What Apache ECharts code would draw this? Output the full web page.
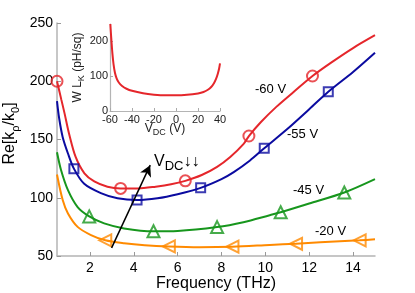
<!DOCTYPE html>
<html><head><meta charset="utf-8">
<script src="https://cdn.jsdelivr.net/npm/echarts@6/dist/echarts.min.js"></script>
<style>html,body{margin:0;padding:0;background:#fff}#c{width:415px;height:293px}</style>
</head><body><div id="c"></div>
<script>
// ---- data ----
var xTicks = [2, 4, 6, 8, 10, 12, 14];
var yTicks = [50, 100, 150, 200, 250];
var seriesNames = ['-60 V', '-55 V', '-45 V', '-20 V'];
var red60 = [[0.5,200],[0.7,184],[0.85,172],[1.05,155],[1.35,135],[1.75,121],[2.2,114],[2.8,109.5],[3.4,108],[4.2,108],[5.0,109.5],[5.7,111.5],[6.35,114.5],[7.1,119.5],[7.8,126.5],[8.4,135],[9.0,146],[9.25,153],[9.8,165],[10.5,178],[11.3,191],[12.15,204.5],[13,216],[14,228.5],[15,239.5]];
var blue55 = [[0.5,183],[0.6,168],[0.76,152],[1.0,138],[1.27,125],[1.74,112],[2.5,104],[3.26,99.5],[4.15,98],[5.08,99.5],[6,103],[7.05,108.5],[8,116],[8.56,122],[9.3,132],[9.95,142.5],[11,159],[12,176],[12.87,191],[14,208],[15,224.5]];
var green45 = [[0.5,139],[0.68,124],[1.0,106.5],[1.44,92],[1.97,84],[2.65,78],[3.56,73.7],[4.9,71.2],[6,71.5],[7.8,74.8],[9,79],[10.2,85],[10.7,87.5],[12,95],[13.6,104.5],[15,116]];
var orange20 = [[0.5,120],[0.76,98],[1.0,86.5],[1.44,75],[2.05,68],[2.7,63.5],[3.56,61],[4.5,59.3],[5.6,58.2],[7,57.6],[8.5,58],[10.2,59.5],[11.4,60.5],[12.5,61.7],[14.3,63.5],[15,64.3]];
var red60Markers = [[0.5,200],[3.4,108],[6.35,114.5],[9.25,153],[12.15,204.5]];
var blue55Markers = [[1.27,125],[4.15,98],[7.05,108.5],[9.95,142.5],[12.87,191]];
var green45Markers = [[1.97,84],[4.9,71.2],[7.8,74.8],[10.7,87.5],[13.6,104.5]];
var orange20Markers = [[2.7,63.5],[5.6,58.2],[8.5,58],[11.4,60.5],[14.3,63.5]];
var insetXTicks = [-60, -40, -20, 0, 20, 40];
var insetYTicks = [0, 100, 200];
var insetLK = [[-59.7,250],[-59.2,225],[-58.6,198],[-57.8,165],[-56.8,135],[-55.5,110],[-54,94],[-52,82],[-49,72],[-45,64],[-40,58],[-30,51],[-20,47],[-10,45],[0,45],[10,46.5],[20,50.5],[25,54.5],[29,61],[32,69],[34.5,80],[36.5,93],[38,107],[39.2,122],[40,137]];
var arrowFrom = [2.99, 57];
var arrowTo = [4.75, 128];

var colors = ['#e5262b', '#0b0ba0', '#17961d', '#ff8a00'];
var font = 'Liberation Sans, Arial, sans-serif';
var chart = echarts.init(document.getElementById('c'), null, {renderer:'canvas'});
var axisGray = '#b4b4b4';

function lineSeries(data, color) {
  return {type:'line', xAxisIndex:0, yAxisIndex:0, data:data, smooth:0.3, showSymbol:false, symbol:'none',
    lineStyle:{color:color, width:2}, z:2, silent:true, animation:false};
}
function markerSeries(data, color, symbol, size, rot) {
  return {type:'scatter', xAxisIndex:0, yAxisIndex:0, data:data, symbol:symbol, symbolSize:size, symbolRotate:rot||0,
    itemStyle:{color:'rgba(0,0,0,0)', borderColor:color, borderWidth:2}, z:3, silent:true, animation:false};
}

var option = {
  backgroundColor:'#fff',
  animation:false,
  textStyle:{fontFamily:font},
  grid:[
    {left:57, right:40, top:23, bottom:37, containLabel:false, outerBoundsMode:'none'},
    {left:110, top:24, width:110, height:87, containLabel:false, outerBoundsMode:'none'}
  ],
  xAxis:[
    {type:'value', gridIndex:0, min:0.5, max:15,
     axisLine:{onZero:false, lineStyle:{color:axisGray, width:1.5}},
     axisTick:{inside:true, length:4, lineStyle:{color:'#999'}, customValues:xTicks},
     axisLabel:{color:'#000', fontSize:14, fontFamily:font, margin:5, customValues:xTicks},
     splitLine:{show:false},
     name:'Frequency (THz)', nameLocation:'middle', nameGap:20, nameMoveOverlap:false,
     nameTextStyle:{color:'#000', fontSize:16, fontFamily:font, verticalAlign:'top'}},
    {type:'value', gridIndex:1, min:-60, max:40, interval:20,
     axisLine:{onZero:false, lineStyle:{color:axisGray, width:1.2}},
     axisTick:{inside:true, length:3, lineStyle:{color:'#aaa'}, customValues:insetXTicks},
     axisLabel:{color:'#222', fontSize:11, fontFamily:font, margin:3, customValues:insetXTicks},
     splitLine:{show:false},
     name:'{a|V}{s|DC}{a| (V)}', nameLocation:'middle', nameGap:10, nameMoveOverlap:false,
     nameTextStyle:{color:'#222', fontFamily:font, rich:{
       a:{fontSize:12, lineHeight:16, fontFamily:font, color:'#222'},
       s:{fontSize:9, lineHeight:9, verticalAlign:'bottom', fontFamily:font, color:'#222'}}}}
  ],
  yAxis:[
    {type:'value', gridIndex:0, min:50, max:250, interval:50,
     axisLine:{show:true, onZero:false, lineStyle:{color:axisGray, width:1.5}},
     axisTick:{show:true, inside:true, length:4, lineStyle:{color:'#999'}},
     axisLabel:{color:'#000', fontSize:14, fontFamily:font, margin:4},
     splitLine:{show:false},
     name:'{a|Re[k}{s|ρ}{a|/k}{s|0}{a|]}', nameLocation:'middle', nameGap:36, nameMoveOverlap:false,
     nameTextStyle:{color:'#000', fontFamily:font, padding:[0,0,0,12], rich:{
       a:{fontSize:16, lineHeight:22, fontFamily:font, color:'#000'},
       s:{fontSize:11, lineHeight:11, verticalAlign:'bottom', fontFamily:font, color:'#000'}}}},
    {type:'value', gridIndex:1, min:0, max:250,
     axisLine:{show:true, onZero:false, lineStyle:{color:axisGray, width:1.2}},
     axisTick:{show:true, inside:true, length:3, lineStyle:{color:'#aaa'}, customValues:insetYTicks},
     axisLabel:{color:'#222', fontSize:11, fontFamily:font, margin:2, customValues:insetYTicks},
     splitLine:{show:false},
     name:'{a|W L}{s|K}{a| (pH/sq)}', nameLocation:'middle', nameGap:24, nameMoveOverlap:false,
     nameTextStyle:{color:'#222', fontFamily:font, rich:{
       a:{fontSize:12, lineHeight:16, fontFamily:font, color:'#222'},
       s:{fontSize:9, lineHeight:9, verticalAlign:'bottom', fontFamily:font, color:'#222'}}}}
  ],
  series:[
    lineSeries(red60, colors[0]),
    lineSeries(blue55, colors[1]),
    lineSeries(green45, colors[2]),
    lineSeries(orange20, colors[3]),
    markerSeries(red60Markers, colors[0], 'circle', 11),
    markerSeries(blue55Markers, colors[1], 'rect', 9),
    markerSeries(green45Markers, colors[2], 'triangle', 12),
    markerSeries(orange20Markers, colors[3], 'triangle', 12, 90),
    {type:'line', xAxisIndex:1, yAxisIndex:1, data:insetLK, smooth:0.3, showSymbol:false, symbol:'none',
     lineStyle:{color:colors[0], width:2}, silent:true},
    {type:'line', xAxisIndex:0, yAxisIndex:0, data:[], silent:true,
     markLine:{silent:true, symbol:['none','arrow'], symbolSize:[9,11], label:{show:false},
       lineStyle:{color:'#000', width:1.5, type:'solid'},
       data:[[{coord:arrowFrom},{coord:arrowTo}]]}}
  ],
  graphic:[
    {type:'text', left:255, top:83, style:{text:seriesNames[0], font:'13px '+font, fill:'#000'}},
    {type:'text', left:287, top:128, style:{text:seriesNames[1], font:'13px '+font, fill:'#000'}},
    {type:'text', left:293, top:184, style:{text:seriesNames[2], font:'13px '+font, fill:'#000'}},
    {type:'text', left:315, top:225, style:{text:seriesNames[3], font:'13px '+font, fill:'#000'}},
    {type:'text', left:154, top:148, style:{
      text:'{v|V}{d|DC}{r|↓↓}', fill:'#000',
      rich:{
        v:{fontSize:16, lineHeight:17, fontFamily:font, fill:'#000', verticalAlign:'top'},
        d:{fontSize:13, lineHeight:13, padding:[12,0,0,0], fontFamily:font, fill:'#000', verticalAlign:'bottom'},
        r:{fontSize:16, lineHeight:19, fontFamily:font, fill:'#000', verticalAlign:'top'}
      }}}
  ]
};
chart.setOption(option);
</script>
</body></html>
